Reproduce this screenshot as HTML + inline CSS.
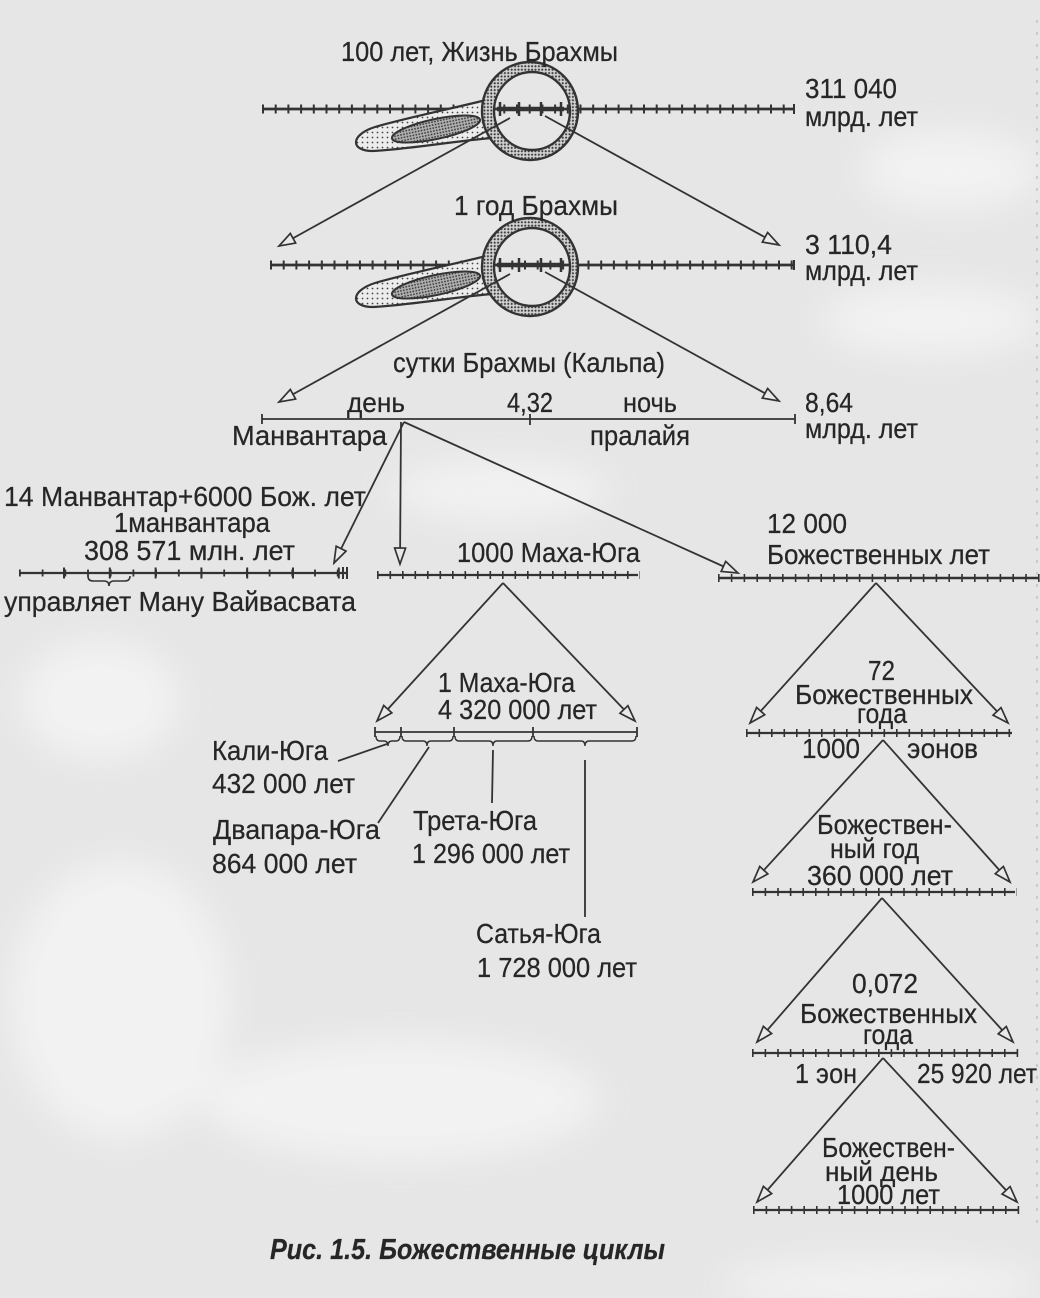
<!DOCTYPE html>
<html><head><meta charset="utf-8">
<style>
html,body{margin:0;padding:0;background:#e7e7e7;}
svg{display:block;}
text{font-family:"Liberation Sans",Arial,sans-serif;font-size:28px;fill:#262626;stroke:#262626;stroke-width:0.25;}
</style></head>
<body>
<svg width="1040" height="1298" viewBox="0 0 1040 1298" xmlns="http://www.w3.org/2000/svg">
<defs>
  <pattern id="dl" width="5" height="5" patternUnits="userSpaceOnUse">
    <rect width="5" height="5" fill="#ececec"/>
    <circle cx="2.5" cy="2.5" r="0.9" fill="#444"/>
  </pattern>
  <pattern id="dm" width="3.4" height="3.4" patternUnits="userSpaceOnUse">
    <rect width="3.4" height="3.4" fill="#d2d2d2"/>
    <circle cx="1.7" cy="1.7" r="1.05" fill="#3a3a3a"/>
  </pattern>
  <pattern id="dd" width="3" height="3" patternUnits="userSpaceOnUse">
    <rect width="3" height="3" fill="#b0b0b0"/>
    <circle cx="1.5" cy="1.5" r="0.9" fill="#333"/>
  </pattern>
  <marker id="ah" markerUnits="userSpaceOnUse" markerWidth="20" markerHeight="14" refX="17" refY="6.5" orient="auto">
    <path d="M1,1 L17,6.5 L1,12 Z" fill="#e9e9e9" stroke="#333" stroke-width="1.7" stroke-linejoin="miter"/>
  </marker>
  <filter id="soft"><feGaussianBlur stdDeviation="18"/></filter>
</defs>

<!-- background blotches -->
<rect width="1040" height="1298" fill="#e6e6e6"/>
<g filter="url(#soft)" fill="#f5f5f5" opacity="0.8">
  <ellipse cx="950" cy="170" rx="90" ry="40"/>
  <ellipse cx="930" cy="320" rx="110" ry="35"/>
  <ellipse cx="500" cy="490" rx="110" ry="30"/>
  <ellipse cx="100" cy="700" rx="80" ry="60"/>
  <ellipse cx="120" cy="1000" rx="110" ry="140"/>
  <ellipse cx="400" cy="1100" rx="200" ry="60"/>
  <ellipse cx="880" cy="1285" rx="160" ry="25"/>
</g>
<line x1="1037" y1="20" x2="1037" y2="1230" stroke="#999" stroke-width="1.2" stroke-dasharray="3 9" opacity="0.6"/>

<g stroke="#333" fill="none">
<!-- ===== Ruler 1 ===== -->
<line x1="262" y1="109" x2="795" y2="109" stroke-width="2.8"/>
<line x1="262" y1="109" x2="795" y2="109" stroke-width="9" stroke-dasharray="2 10.7"/>
<line x1="794" y1="104" x2="794" y2="114" stroke-width="2"/>

<!-- ===== Ruler 2 ===== -->
<line x1="270" y1="265" x2="795" y2="265" stroke-width="2.8"/>
<line x1="270" y1="265" x2="795" y2="265" stroke-width="9" stroke-dasharray="2 10.7"/>
<line x1="794" y1="260" x2="794" y2="270" stroke-width="2"/>
</g>

<!-- ===== Magnifier 1 ===== -->
<g>
  <path d="M490,99 C455,108 405,118 375,127 C350,135 350,151 373,151 C410,149 455,141 492,138 Z" fill="url(#dl)" stroke="#333" stroke-width="2.2"/>
  <ellipse cx="436" cy="129" rx="45" ry="10" transform="rotate(-12 436 129)" fill="url(#dd)" stroke="#333" stroke-width="2"/>
  <path d="M482,111 a48,49 0 1,0 96,0 a48,49 0 1,0 -96,0 Z M494,111 a38,39 0 1,1 76,0 a38,39 0 1,1 -76,0 Z" fill="url(#dm)" fill-rule="evenodd" stroke="#333" stroke-width="2.4"/>
</g>
<g stroke="#333">
  <line x1="497" y1="109" x2="564" y2="109" stroke-width="4.5"/>
  <line x1="500" y1="102" x2="500" y2="116" stroke-width="2.5"/>
  <line x1="519" y1="102" x2="519" y2="116" stroke-width="2.5"/>
  <line x1="541" y1="102" x2="541" y2="116" stroke-width="2.5"/>
  <line x1="561" y1="102" x2="561" y2="116" stroke-width="2.5"/>
</g>

<!-- ===== Magnifier 2 ===== -->
<g transform="translate(0,156)">
  <path d="M490,99 C455,108 405,118 375,127 C350,135 350,151 373,151 C410,149 455,141 492,138 Z" fill="url(#dl)" stroke="#333" stroke-width="2.2"/>
  <ellipse cx="436" cy="129" rx="45" ry="10" transform="rotate(-12 436 129)" fill="url(#dd)" stroke="#333" stroke-width="2"/>
  <path d="M482,111 a48,49 0 1,0 96,0 a48,49 0 1,0 -96,0 Z M494,111 a38,39 0 1,1 76,0 a38,39 0 1,1 -76,0 Z" fill="url(#dm)" fill-rule="evenodd" stroke="#333" stroke-width="2.4"/>
  <g stroke="#333">
    <line x1="497" y1="109" x2="564" y2="109" stroke-width="4.5"/>
    <line x1="500" y1="102" x2="500" y2="116" stroke-width="2.5"/>
    <line x1="519" y1="102" x2="519" y2="116" stroke-width="2.5"/>
    <line x1="541" y1="102" x2="541" y2="116" stroke-width="2.5"/>
    <line x1="561" y1="102" x2="561" y2="116" stroke-width="2.5"/>
  </g>
</g>

<g stroke="#333" fill="none" stroke-width="1.8">
<!-- arrows from magnifiers -->
<line x1="510" y1="118" x2="279" y2="246" marker-end="url(#ah)"/>
<line x1="545" y1="116" x2="779" y2="245" marker-end="url(#ah)"/>
<line x1="510" y1="274" x2="279" y2="402" marker-end="url(#ah)"/>
<line x1="545" y1="272" x2="779" y2="401" marker-end="url(#ah)"/>

<!-- ===== Ruler 3 (Kalpa) ===== -->
<line x1="262" y1="419" x2="795" y2="419"/>
<line x1="262" y1="414" x2="262" y2="424"/>
<line x1="795" y1="414" x2="795" y2="424"/>
<line x1="530" y1="414" x2="530" y2="425"/>

<!-- junction lines -->
<line x1="404" y1="422" x2="334" y2="563" marker-end="url(#ah)"/>
<line x1="401" y1="422" x2="400" y2="564" marker-end="url(#ah)"/>
<line x1="404" y1="422" x2="738" y2="573" marker-end="url(#ah)"/>

<!-- ===== Left ruler (manvantara) ===== -->
<line x1="19" y1="573" x2="347" y2="573" stroke-width="2.2"/>
<line x1="19" y1="573" x2="347" y2="573" stroke-width="7" stroke-dasharray="1.8 20.9"/>
<line x1="63" y1="573" x2="347" y2="573" stroke-width="11" stroke-dasharray="2 43.8"/>
<line x1="343" y1="567" x2="343" y2="579" stroke-width="2"/>
<line x1="347" y1="567" x2="347" y2="579" stroke-width="2"/>
<path d="M88,576 Q88,581 93,581 L104,581 Q109,581 109,586 Q109,581 114,581 L125,581 Q130,581 130,576" stroke-width="1.6"/>

<!-- ===== Middle ruler (1000 Maha-Yuga) ===== -->
<line x1="377" y1="575" x2="638" y2="575" stroke-width="2.2"/>
<line x1="377" y1="575" x2="640" y2="575" stroke-width="8" stroke-dasharray="1.6 10.9"/>

<!-- ===== Right ruler 1 ===== -->
<line x1="718" y1="578" x2="1038" y2="578" stroke-width="2.4"/>
<line x1="718" y1="578" x2="1040" y2="578" stroke-width="8" stroke-dasharray="1.6 11.2"/>

<!-- Maha-Yuga triangle -->
<line x1="503" y1="583" x2="377" y2="721" marker-end="url(#ah)"/>
<line x1="503" y1="583" x2="635" y2="721" marker-end="url(#ah)"/>

<!-- Yuga ruler -->
<line x1="375" y1="732" x2="637" y2="732" stroke-width="1.8"/>
<line x1="375" y1="727" x2="375" y2="737"/>
<line x1="401" y1="727" x2="401" y2="737"/>
<line x1="454" y1="727" x2="454" y2="737"/>
<line x1="533" y1="727" x2="533" y2="737"/>
<line x1="637" y1="727" x2="637" y2="737"/>
<g stroke-width="1.4">
<path d="M376,736 Q376,741 380,741 L384,741 Q388,741 388,746 Q388,741 392,741 L396,741 Q400,741 400,736"/>
<path d="M402,736 Q402,741 406,741 L423,741 Q427,741 427,746 Q427,741 431,741 L449,741 Q453,741 453,736"/>
<path d="M455,736 Q455,741 459,741 L489,741 Q493,741 493,746 Q493,741 497,741 L528,741 Q532,741 532,736"/>
<path d="M534,736 Q534,741 538,741 L581,741 Q585,741 585,746 Q585,741 589,741 L632,741 Q636,741 636,736"/>
</g>
<line x1="387" y1="744" x2="338" y2="761"/>
<line x1="429" y1="747" x2="378" y2="823"/>
<line x1="493" y1="750" x2="492" y2="803"/>
<line x1="585" y1="760" x2="585" y2="917"/>

<!-- Right triangle 1 -->
<line x1="876" y1="583" x2="750" y2="723" marker-end="url(#ah)"/>
<line x1="876" y1="583" x2="1008" y2="723" marker-end="url(#ah)"/>
<line x1="746" y1="733" x2="1012" y2="733" stroke-width="2.2"/>
<line x1="746" y1="733" x2="1014" y2="733" stroke-width="8" stroke-dasharray="1.6 10.9"/>

<!-- Right triangle 2 -->
<line x1="883" y1="740" x2="753" y2="882" marker-end="url(#ah)"/>
<line x1="883" y1="740" x2="1010" y2="882" marker-end="url(#ah)"/>
<line x1="752" y1="892" x2="1015" y2="892" stroke-width="2.2"/>
<line x1="752" y1="892" x2="1017" y2="892" stroke-width="8" stroke-dasharray="1.6 11"/>

<!-- Right triangle 3 -->
<line x1="882" y1="898" x2="757" y2="1042" marker-end="url(#ah)"/>
<line x1="882" y1="898" x2="1013" y2="1042" marker-end="url(#ah)"/>
<line x1="752" y1="1053" x2="1017" y2="1053" stroke-width="2.2"/>
<line x1="752" y1="1053" x2="1019" y2="1053" stroke-width="8" stroke-dasharray="1.6 11"/>

<!-- Right triangle 4 -->
<line x1="883" y1="1058" x2="757" y2="1202" marker-end="url(#ah)"/>
<line x1="883" y1="1058" x2="1017" y2="1202" marker-end="url(#ah)"/>
<line x1="753" y1="1210" x2="1018" y2="1210" stroke-width="2.2"/>
<line x1="753" y1="1210" x2="1020" y2="1210" stroke-width="8" stroke-dasharray="1.6 11"/>
</g>

<!-- ===== TEXT ===== -->
<g>
<text x="341" y="61" textLength="277" lengthAdjust="spacingAndGlyphs">100 лет, Жизнь Брахмы</text>
<text x="805" y="98" textLength="92" lengthAdjust="spacingAndGlyphs">311 040</text>
<text x="805" y="126" textLength="113" lengthAdjust="spacingAndGlyphs">млрд. лет</text>
<text x="454" y="215" textLength="164" lengthAdjust="spacingAndGlyphs">1 год  Брахмы</text>
<text x="805" y="254" textLength="87" lengthAdjust="spacingAndGlyphs">3 110,4</text>
<text x="805" y="280" textLength="113" lengthAdjust="spacingAndGlyphs">млрд. лет</text>
<text x="393" y="372" textLength="272" lengthAdjust="spacingAndGlyphs">сутки Брахмы (Кальпа)</text>
<text x="347" y="412" textLength="58" lengthAdjust="spacingAndGlyphs">день</text>
<text x="507" y="412" textLength="46" lengthAdjust="spacingAndGlyphs">4,32</text>
<text x="623" y="412" textLength="54" lengthAdjust="spacingAndGlyphs">ночь</text>
<text x="805" y="412" textLength="48" lengthAdjust="spacingAndGlyphs">8,64</text>
<text x="805" y="438" textLength="113" lengthAdjust="spacingAndGlyphs">млрд. лет</text>
<text x="232" y="445" textLength="155" lengthAdjust="spacingAndGlyphs">Манвантара</text>
<text x="590" y="445" textLength="100" lengthAdjust="spacingAndGlyphs">пралайя</text>

<text x="4" y="506" textLength="362" lengthAdjust="spacingAndGlyphs">14 Манвантар+6000 Бож. лет</text>
<text x="114" y="532" textLength="156" lengthAdjust="spacingAndGlyphs">1манвантара</text>
<text x="84" y="560" textLength="211" lengthAdjust="spacingAndGlyphs">308 571 млн. лет</text>
<text x="4" y="611" textLength="352" lengthAdjust="spacingAndGlyphs">управляет Ману Вайвасвата</text>
<text x="457" y="562" textLength="183" lengthAdjust="spacingAndGlyphs">1000 Маха-Юга</text>
<text x="767" y="533" textLength="80" lengthAdjust="spacingAndGlyphs">12 000</text>
<text x="767" y="564" textLength="223" lengthAdjust="spacingAndGlyphs">Божественных лет</text>

<text x="438" y="692" textLength="137" lengthAdjust="spacingAndGlyphs">1 Маха-Юга</text>
<text x="438" y="719" textLength="159" lengthAdjust="spacingAndGlyphs">4 320 000 лет</text>
<text x="212" y="760" textLength="116" lengthAdjust="spacingAndGlyphs">Кали-Юга</text>
<text x="212" y="793" textLength="143" lengthAdjust="spacingAndGlyphs">432 000 лет</text>
<text x="213" y="839" textLength="167" lengthAdjust="spacingAndGlyphs">Двапара-Юга</text>
<text x="212" y="873" textLength="145" lengthAdjust="spacingAndGlyphs">864 000 лет</text>
<text x="413" y="830" textLength="124" lengthAdjust="spacingAndGlyphs">Трета-Юга</text>
<text x="412" y="863" textLength="158" lengthAdjust="spacingAndGlyphs">1 296 000 лет</text>
<text x="476" y="943" textLength="125" lengthAdjust="spacingAndGlyphs">Сатья-Юга</text>
<text x="477" y="977" textLength="160" lengthAdjust="spacingAndGlyphs">1 728 000 лет</text>

<text x="868" y="680" textLength="27" lengthAdjust="spacingAndGlyphs">72</text>
<text x="795" y="704" textLength="178" lengthAdjust="spacingAndGlyphs">Божественных</text>
<text x="857" y="723" textLength="50" lengthAdjust="spacingAndGlyphs">года</text>
<text x="802" y="758" textLength="58" lengthAdjust="spacingAndGlyphs">1000</text>
<text x="907" y="758" textLength="71" lengthAdjust="spacingAndGlyphs">эонов</text>

<text x="817" y="834" textLength="135" lengthAdjust="spacingAndGlyphs">Божествен-</text>
<text x="830" y="858" textLength="89" lengthAdjust="spacingAndGlyphs">ный год</text>
<text x="807" y="885" textLength="146" lengthAdjust="spacingAndGlyphs">360  000 лет</text>

<text x="852" y="993" textLength="66" lengthAdjust="spacingAndGlyphs">0,072</text>
<text x="800" y="1023" textLength="177" lengthAdjust="spacingAndGlyphs">Божественных</text>
<text x="863" y="1044" textLength="50" lengthAdjust="spacingAndGlyphs">года</text>
<text x="795" y="1083" textLength="62" lengthAdjust="spacingAndGlyphs">1 эон</text>
<text x="917" y="1083" textLength="120" lengthAdjust="spacingAndGlyphs">25 920 лет</text>

<text x="822" y="1157" textLength="133" lengthAdjust="spacingAndGlyphs">Божествен-</text>
<text x="825" y="1181" textLength="113" lengthAdjust="spacingAndGlyphs">ный день</text>
<text x="837" y="1204" textLength="103" lengthAdjust="spacingAndGlyphs">1000 лет</text>

<text x="270" y="1259" textLength="395" lengthAdjust="spacingAndGlyphs" style="font-style:italic;font-weight:bold;font-size:29px;">Рис. 1.5. Божественные циклы</text>
</g>
</svg>
</body></html>
